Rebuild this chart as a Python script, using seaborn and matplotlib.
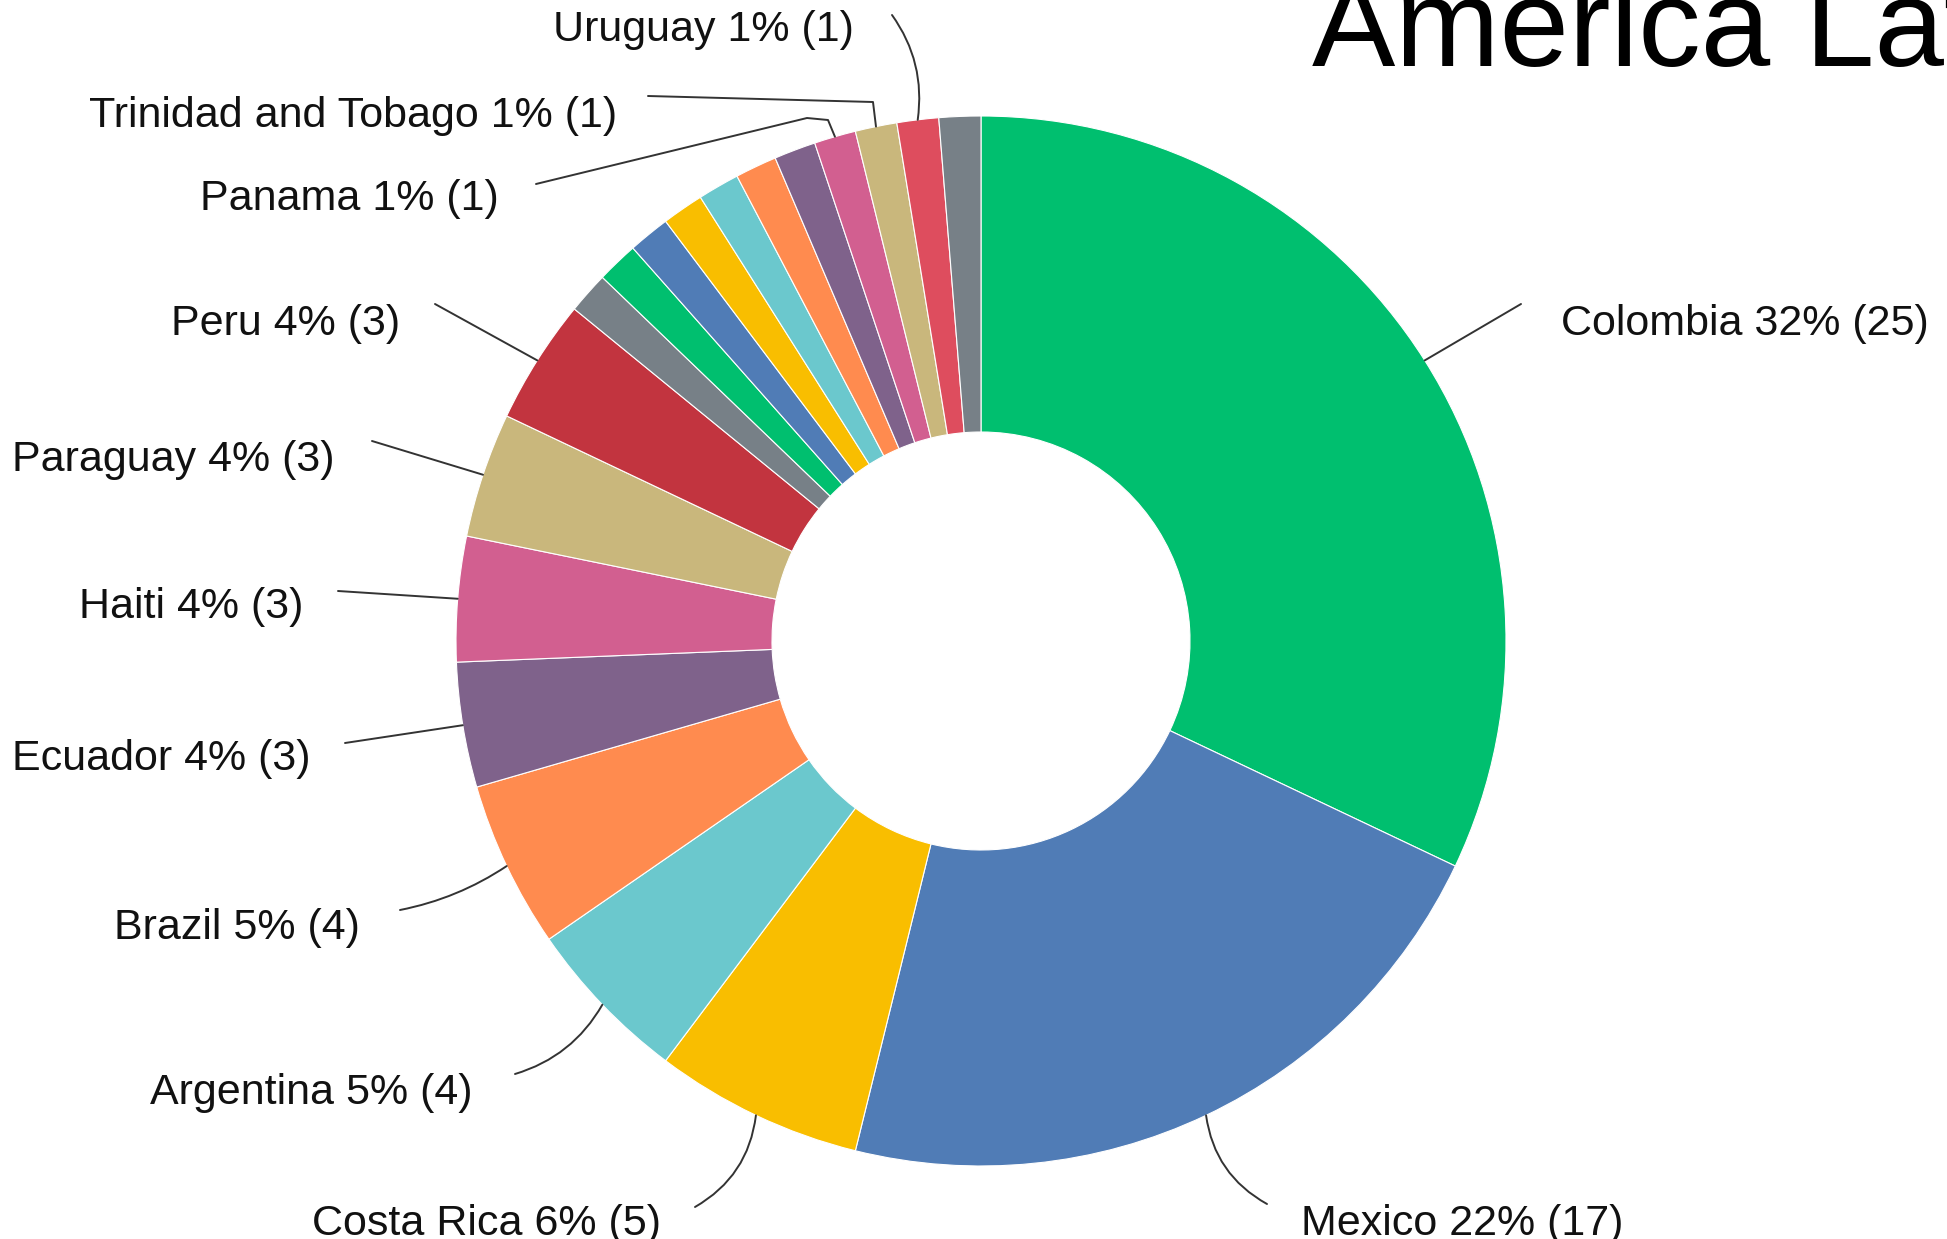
import numpy as np
import matplotlib
matplotlib.use("Agg")
import matplotlib.pyplot as plt
import seaborn as sns

# survey answers per country, clockwise from 12 o'clock
countries = ["Colombia", "Mexico", "Costa Rica", "Argentina", "Brazil",
             "Ecuador", "Haiti", "Paraguay", "Peru",
             "", "", "", "", "", "", "",
             "Panama", "Trinidad and Tobago", "Uruguay", ""]
counts = [25, 17, 5, 4, 4, 3, 3, 3, 3, 1, 1, 1, 1, 1, 1, 1, 1, 1, 1, 1]
colors = ["#00BF6F", "#507CB6", "#F9BE00", "#6BC8CD", "#FF8B4F",
          "#7F628B", "#D25F90", "#C9B77C", "#C2343F", "#778087",
          "#00BF6F", "#507CB6", "#F9BE00", "#6BC8CD", "#FF8B4F",
          "#7F628B", "#D25F90", "#C9B77C", "#DE4D5E", "#778087"]
title = "America Latina"

W, H = 1947, 1239
CX, CY, R_OUT, R_IN = 981, 641, 525, 209

# label layout: (text x, text y, align, leader path end points, arc rad)
layout = {
    "Colombia":            (1561, 324, "left",  [(1521, 304)], 0.0),
    "Mexico":              (1301, 1224, "left", [(1267, 1204)], -0.25),
    "Costa Rica":          (661, 1224, "right", [(695, 1207)], 0.25),
    "Argentina":           (473, 1093, "right", [(515, 1074)], 0.2),
    "Brazil":              (360, 928, "right",  [(400, 910)], 0.1),
    "Ecuador":             (310, 759, "right",  [(345, 743)], 0.0),
    "Haiti":               (303, 607, "right",  [(338, 591)], 0.0),
    "Paraguay":            (335, 460, "right",  [(372, 441)], 0.0),
    "Peru":                (400, 324, "right",  [(435, 304)], 0.0),
    "Panama":              (499, 199, "right",  [(828, 120), (807, 118), (536, 184)], 0.0),
    "Trinidad and Tobago": (617, 116, "right",  [(873, 102), (648, 96)], 0.0),
    "Uruguay":             (854, 30, "right",   [(892, 15)], -0.2),
}

sns.set_theme(style="white")
plt.rcParams["font.family"] = ["Liberation Sans", "DejaVu Sans"]

fig = plt.figure(figsize=(W / 100, H / 100), dpi=100)
ax = fig.add_axes([0, 0, 1, 1])

pal = sns.color_palette(colors)
wedges, _ = ax.pie(counts, colors=pal, startangle=-90, counterclock=True,
                   center=(CX, CY), radius=R_OUT,
                   wedgeprops=dict(width=R_OUT - R_IN, edgecolor="white", linewidth=0.8))
ax.set_xlim(0, W)
ax.set_ylim(H, 0)
ax.set_aspect("equal")
ax.axis("off")

total = sum(counts)
for w, name, n in zip(wedges, countries, counts):
    if name not in layout:
        continue
    tx, ty, ha, path, rad = layout[name]
    th = np.deg2rad((w.theta1 + w.theta2) / 2)
    x0, y0 = CX + R_OUT * np.cos(th), CY + R_OUT * np.sin(th)
    if len(path) == 1:
        ax.annotate("", xy=(x0, y0), xytext=path[0],
                    arrowprops=dict(arrowstyle="-", color="#333333", lw=1.4,
                                    shrinkA=0, shrinkB=0,
                                    connectionstyle=f"arc3,rad={rad}"))
    else:
        xs = [x0] + [p[0] for p in path]
        ys = [y0] + [p[1] for p in path]
        ax.plot(xs, ys, color="#333333", lw=1.4, solid_joinstyle="round")
    pct = round(n / total * 100)
    ax.text(tx, ty, f"{name} {pct}% ({n})", ha=ha, va="center",
            fontsize=31, color="#111111")

ax.text(1312, 66, title, ha="left", va="baseline", fontsize=90, color="black")

fig.savefig("out.png", dpi=100)
